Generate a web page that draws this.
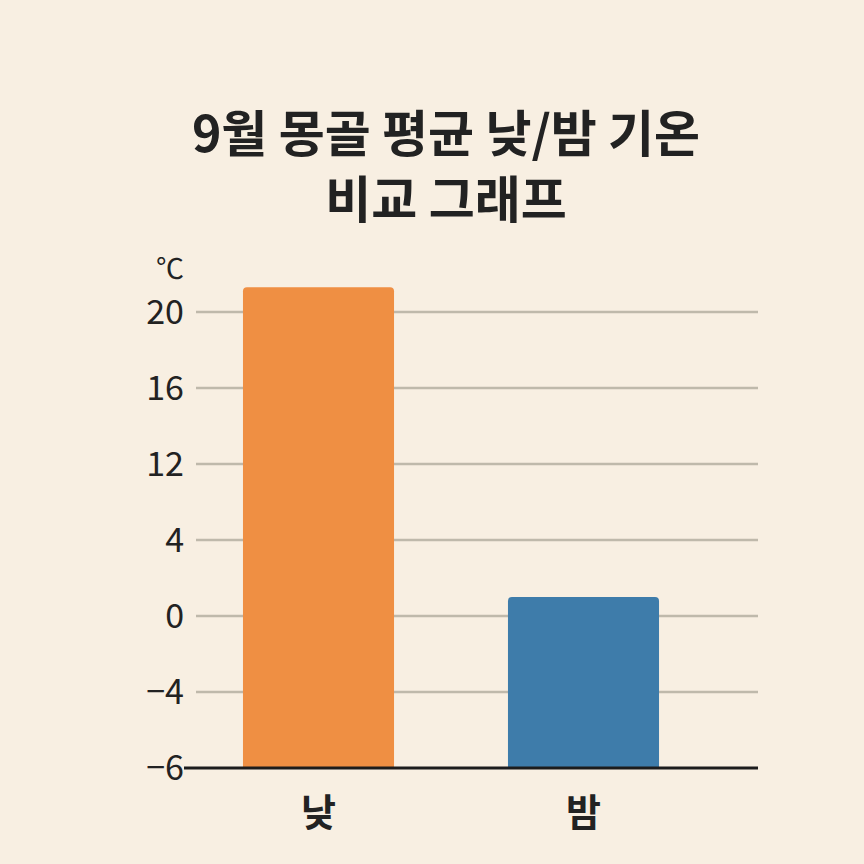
<!DOCTYPE html>
<meta charset="utf-8" />
<script src="https://d3js.org/d3.v7.min.js"></script>
<style>
  body { margin: 0; background: #f8efe2; }
  text { font-family: "Noto Sans CJK KR", "Noto Sans", sans-serif; fill: #222; }
</style>
<div id="chart"></div>
<script>
  // data
  var categories = ["낮", "밤"];
  var temps = [21.3, 1.0];
  var barColors = ["#ef8f43", "#3e7caa"];
  // the axis is spaced evenly per tick, not per degree
  var tickValues = [-6, -4, 0, 4, 12, 16, 20];
  var titleLines = ["9월 몽골 평균 낮/밤 기온", "비교 그래프"];
  var unitLabel = "℃";

  const width = 864;
  const height = 864;

  const svg = d3
    .select("#chart")
    .append("svg")
    .attr("width", width)
    .attr("height", height);

  svg.append("rect")
    .attr("width", width)
    .attr("height", height)
    .attr("fill", "#f8efe2");

  var plotLeft = 196,
    plotRight = 758,
    plotBottom = 768,
    tickStep = 76;

  // piecewise linear scale: each tick gets the same vertical gap
  var y = d3
    .scaleLinear()
    .domain(tickValues)
    .range(tickValues.map(function (d, i) { return plotBottom - i * tickStep; }));

  var x = d3
    .scaleBand()
    .domain(categories)
    .range([186, 716])
    .paddingInner(0.43)
    .paddingOuter(0.215);

  // title
  svg.append("g")
    .selectAll("text")
    .data(titleLines)
    .enter()
    .append("text")
    .attr("x", 446)
    .attr("y", function (d, i) { return 152 + i * 66; })
    .attr("text-anchor", "middle")
    .style("font-size", "50px")
    .style("font-weight", "bold")
    .text(function (d) { return d; });

  // gridlines (all but the baseline)
  svg.append("g")
    .selectAll("line")
    .data(tickValues.filter(function (d) { return d !== tickValues[0]; }))
    .enter()
    .append("line")
    .attr("x1", plotLeft)
    .attr("x2", plotRight)
    .attr("y1", function (d) { return y(d); })
    .attr("y2", function (d) { return y(d); })
    .attr("stroke", "#bfb9ab")
    .attr("stroke-width", 2.5);

  // bars, rounded only on top
  var r = 4;
  svg.append("g")
    .selectAll("path")
    .data(categories)
    .enter()
    .append("path")
    .attr("fill", function (d, i) { return barColors[i]; })
    .attr("d", function (d, i) {
      var x0 = x(d),
        x1 = x(d) + x.bandwidth(),
        top = y(temps[i]),
        bot = y(tickValues[0]);
      return "M" + x0 + "," + bot +
        "V" + (top + r) +
        "Q" + x0 + "," + top + " " + (x0 + r) + "," + top +
        "H" + (x1 - r) +
        "Q" + x1 + "," + top + " " + x1 + "," + (top + r) +
        "V" + bot + "Z";
    });

  // baseline
  svg.append("line")
    .attr("x1", plotLeft - 12)
    .attr("x2", plotRight)
    .attr("y1", y(tickValues[0]))
    .attr("y2", y(tickValues[0]))
    .attr("stroke", "#1c1c1c")
    .attr("stroke-width", 3);

  // y tick labels
  svg.append("g")
    .selectAll("text")
    .data(tickValues)
    .enter()
    .append("text")
    .attr("x", 184)
    .attr("y", function (d) { return y(d); })
    .attr("dy", "0.36em")
    .attr("text-anchor", "end")
    .style("font-size", "34px")
    .text(function (d) { return d < 0 ? "\u2212" + Math.abs(d) : d; });

  svg.append("text")
    .attr("x", 184)
    .attr("y", 279)
    .attr("text-anchor", "end")
    .style("font-size", "28px")
    .text(unitLabel);

  // x labels
  svg.append("g")
    .selectAll("text")
    .data(categories)
    .enter()
    .append("text")
    .attr("x", function (d) { return x(d) + x.bandwidth() / 2; })
    .attr("y", 826)
    .attr("text-anchor", "middle")
    .style("font-size", "38px")
    .style("font-weight", "bold")
    .text(function (d) { return d; });
</script>
